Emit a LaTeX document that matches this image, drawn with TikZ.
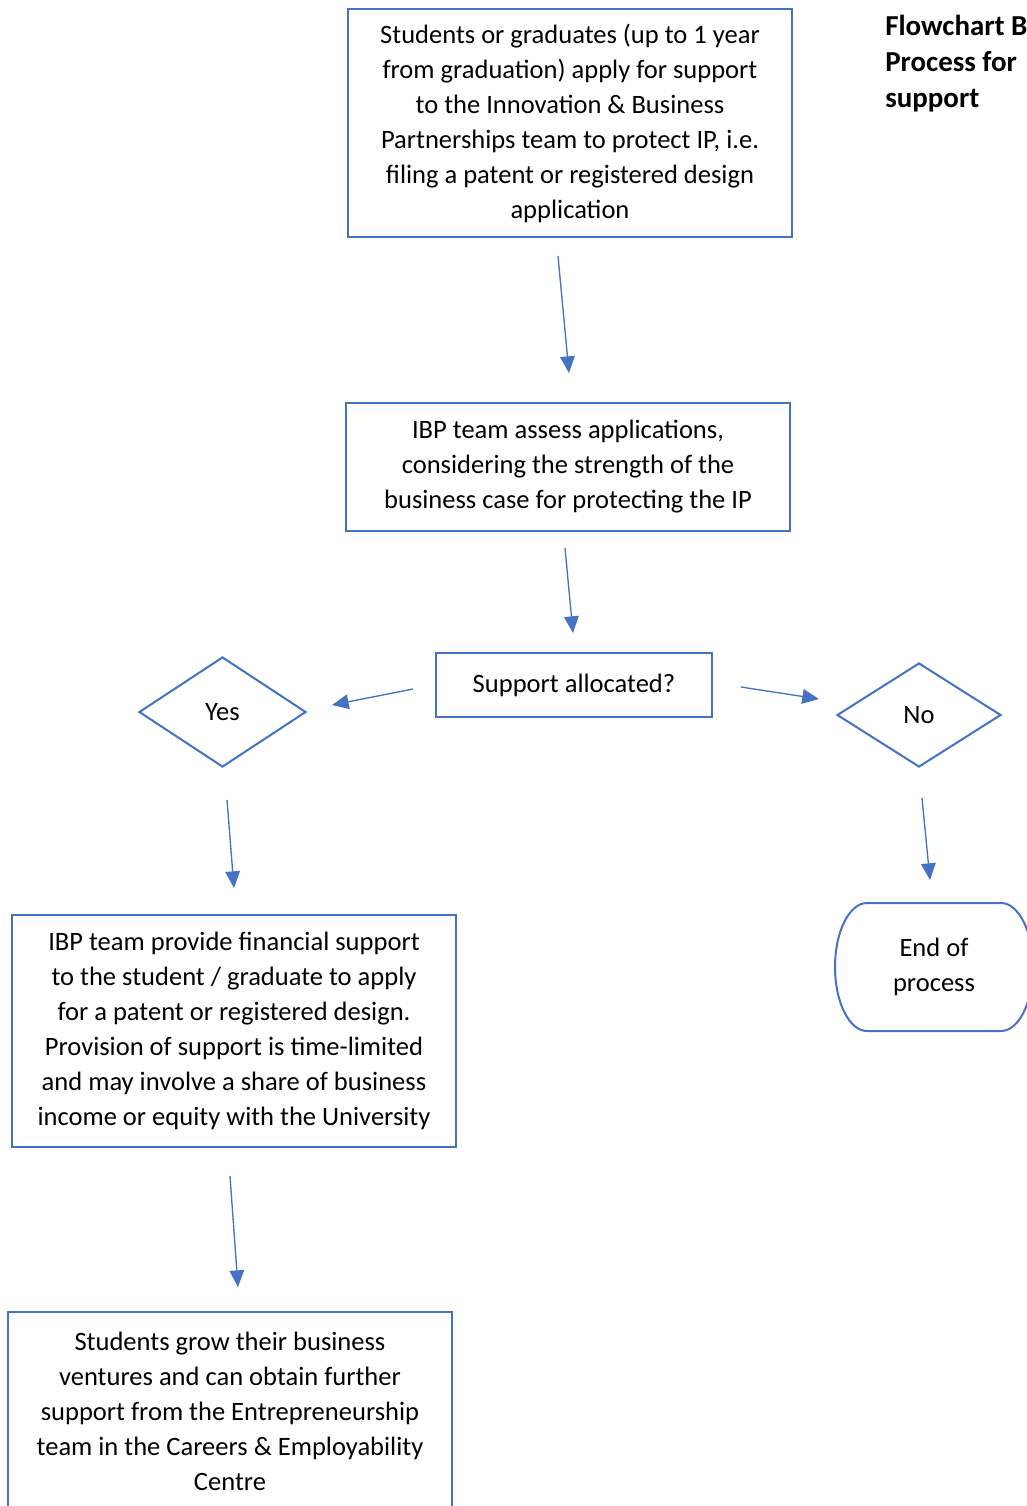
\documentclass[tikz,border=0pt]{standalone}
\usepackage{fontspec}
\setmainfont{Carlito}
\usetikzlibrary{shapes.geometric,arrows.meta}

\definecolor{ibpblue}{HTML}{4472C4}
\tikzstyle{box}=[rectangle,draw=ibpblue,line width=1.5pt,inner sep=0pt,align=center,font=\fontsize{19.9}{26.25}\selectfont]
\tikzstyle{decision}=[box,diamond]
\tikzstyle{terminal}=[box,draw=none,outer sep=0pt]
\tikzstyle{heading}=[inner sep=0pt,align=left,font=\bfseries\fontsize{21.7}{27}\selectfont]
\tikzstyle{flow}=[draw=ibpblue,line width=1pt,-{Triangle[length=12.5pt,width=11pt]}]

\begin{document}
\begin{tikzpicture}[x=0.75pt,y=-0.75pt]
	\useasboundingbox (0,0) rectangle (1027,1506);
		\node[box,minimum width=333pt,minimum height=171pt] (apply) at (570,123) {Students or graduates (up to 1 year\\from graduation) apply for support\\to the Innovation \& Business\\Partnerships team to protect IP, i.e.\\filing a patent or registered design\\application};
		\node[box,minimum width=333pt,minimum height=96pt] (assess) at (568,467) {IBP team assess applications,\\considering the strength of the\\business case for protecting the IP};
		\node[box,minimum width=207pt,minimum height=48pt] (alloc) at (574,685) {Support allocated?};
		\node[decision,minimum width=125.25pt,minimum height=82.5pt] (yes) at (222.5,712) {Yes};
		\node[decision,minimum width=123pt,minimum height=78pt] (no) at (919,715) {No};
		\node[box,minimum width=333pt,minimum height=174pt] (provide) at (234,1031) {IBP team provide financial support\\to the student / graduate to apply\\for a patent or registered design.\\Provision of support is time-limited\\and may involve a share of business\\income or equity with the University};
		\node[terminal,minimum width=148.5pt,minimum height=96pt] (endp) at (934,967) {End of\\process};
		\node[box,minimum width=333pt,minimum height=149.25pt] (grow) at (230,1411.5) {Students grow their business\\ventures and can obtain further\\support from the Entrepreneurship\\team in the Careers \& Employability\\Centre};
		\node[heading,anchor=north west] (title) at (885,15) {Flowchart B\\Process for\\support};
		% Outline of the end step
		\draw[ibpblue,line width=1.5pt] ([xshift=24pt]endp.north west) -- ([xshift=-24pt]endp.north east)
			arc[start angle=90,end angle=-90,x radius=24pt,y radius=48pt] -- ([xshift=24pt]endp.south west)
			arc[start angle=270,end angle=90,x radius=24pt,y radius=48pt] -- cycle;
		% Then the arrows between the steps
		\draw[flow] ([shift={(-12,18)}]apply.south) -- ([shift={(1,-29)}]assess.north);
		\draw[flow] ([shift={(-3,16)}]assess.south) -- ([shift={(-1,-19)}]alloc.north);
		\draw[flow] ([shift={(-22,4)}]alloc.west) -- ([shift={(25,-7)}]yes.east);
		\draw[flow] ([shift={(28,2)}]alloc.east) -- ([shift={(-17,-16)}]no.west);
		\draw[flow] ([shift={(4.5,32)}]yes.south) -- ([shift={(0,-26)}]provide.north);
		\draw[flow] ([shift={(3,30)}]no.south) -- ([shift={(-4,-23)}]endp.north);
		\draw[flow] ([shift={(-4,28)}]provide.south) -- ([shift={(8,-24)}]grow.north);
\end{tikzpicture}
\end{document}
